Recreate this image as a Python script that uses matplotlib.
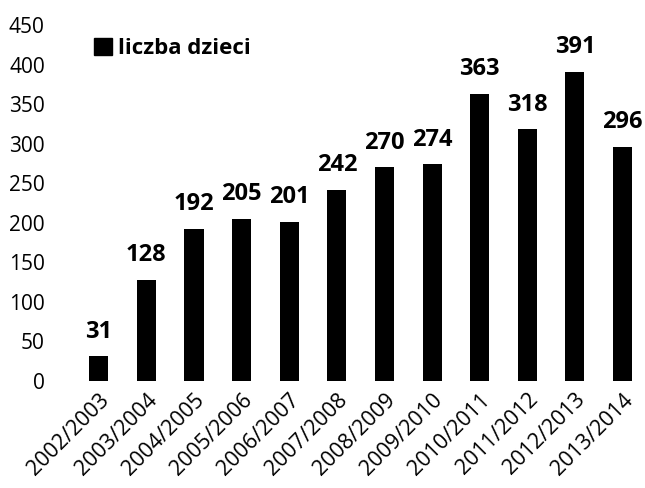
import matplotlib
matplotlib.use("Agg")
from matplotlib import pyplot as plt
from matplotlib.patches import Patch

years = ['2002/2003', '2003/2004', '2004/2005', '2005/2006', '2006/2007', '2007/2008',
         '2008/2009', '2009/2010', '2010/2011', '2011/2012', '2012/2013', '2013/2014']
children = [31, 128, 192, 205, 201, 242, 270, 274, 363, 318, 391, 296]

plt.rcParams['font.family'] = ['Open Sans', 'DejaVu Sans']

fig = plt.figure(figsize=(6.45, 4.88), dpi=100)
ax = fig.add_axes([74 / 645, 107 / 488, 570 / 645, 356 / 488])

x = range(len(years))
ax.bar(x, children, width=0.4, color='black')
for xi, v in zip(x, children):
    ax.text(xi, v + 16, str(v), ha='center', va='bottom', fontsize=17, fontweight='bold')

ax.set_xlim(-0.52, 11.45)
ax.set_ylim(0, 450)
ax.set_yticks(range(0, 451, 50))
ax.tick_params(axis='y', length=0, labelsize=15, pad=21)
ax.tick_params(axis='x', length=0, labelsize=15.5, pad=6)
ax.set_xticks(list(x))
ax.set_xticklabels(years, rotation=45, ha='right', rotation_mode='anchor')
for s in ax.spines.values():
    s.set_visible(False)

ax.legend(handles=[Patch(color='black', label='liczba dzieci')], loc='upper left',
          bbox_to_anchor=(0.0, 1.02), frameon=False, handlelength=0.8, handleheight=0.8,
          handletextpad=0.3, prop={'size': 16, 'weight': 'bold'})

fig.savefig('out.png', dpi=100)
